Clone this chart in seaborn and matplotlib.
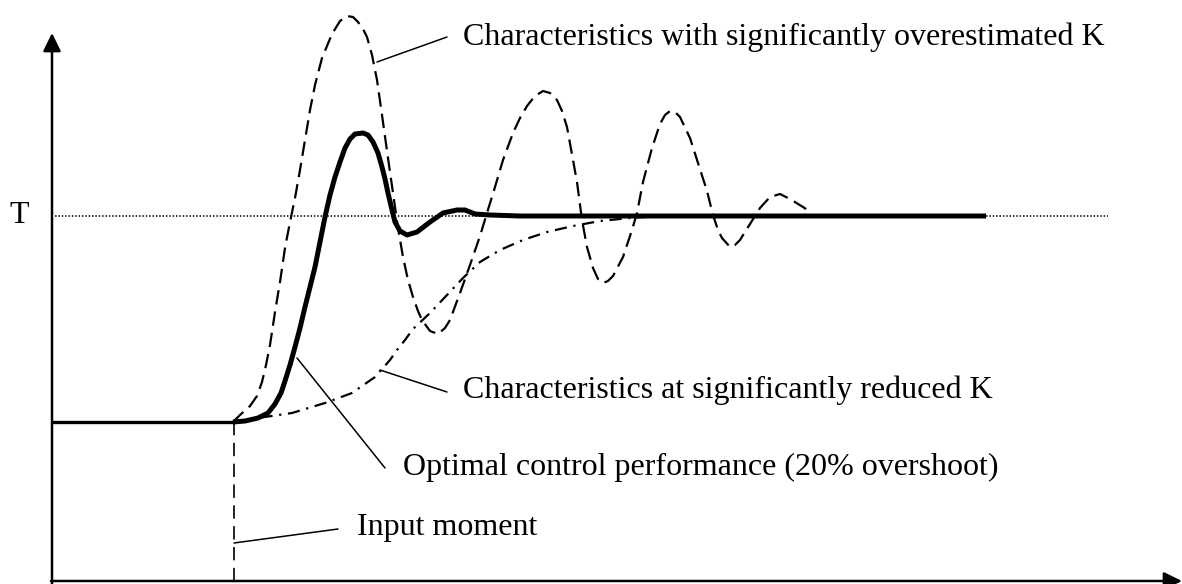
import matplotlib
matplotlib.use("Agg")
import matplotlib.pyplot as plt
import seaborn as sns

# values, in picture units (x = time, y = level, y grows downward)
t_pre = [52, 233]
y_pre = [422, 422]

t_opt = [233, 245, 258, 268, 275, 281, 285, 290, 295, 300, 305, 310, 315, 320, 325,
         330, 335, 340, 345, 350, 355, 363, 368, 373, 378, 382, 385, 388, 392, 395,
         400, 407, 417, 430, 443, 457, 465, 470, 475, 490, 520, 986]
y_opt = [422, 421, 418, 413, 404, 393, 381, 365, 347, 328, 307, 287, 267, 242, 217,
         195, 177, 162, 148, 139, 134, 133, 135, 142, 153, 167, 179, 193, 210, 222,
         231, 235, 232, 222, 213, 210, 210, 212, 214, 215, 216, 216]

t_over = [233, 240, 250, 257, 262, 266, 270, 275, 280, 285, 290, 295, 300, 305, 310,
          315, 322, 332, 340, 347, 353, 358, 363, 367, 372, 377, 382, 388, 393, 398,
          403, 408, 413, 418, 422, 430, 438, 445, 450, 460, 470, 480, 487, 495, 503,
          513, 520, 527, 535, 543, 550, 557, 562, 567, 573, 577, 582, 587, 593, 598,
          603, 608, 613, 623, 632, 637, 643, 652, 660, 665, 670, 675, 680, 690, 698,
          707, 713, 718, 722, 730, 735, 740, 750, 760, 770, 780, 790, 803, 812]
y_over = [422, 415, 406, 396, 382, 365, 345, 312, 282, 248, 222, 198, 170, 140, 110,
          85, 58, 34, 21, 16, 17, 22, 29, 37, 55, 80, 115, 158, 193, 228,
          257, 280, 297, 311, 320, 331, 334, 328, 320, 293, 265, 236, 213, 187, 160,
          133, 118, 106, 96, 91, 93, 100, 111, 127, 160, 182, 220, 247, 268, 279,
          283, 281, 276, 257, 230, 213, 182, 148, 124, 115, 111, 112, 117, 138, 163,
          191, 215, 230, 238, 247, 245, 240, 224, 208, 197, 194, 199, 207, 213]

t_red = [233, 258, 292, 325, 352, 375, 390, 397, 405, 413, 430, 447, 463, 480, 500,
         523, 547, 573, 600, 630, 660]
y_red = [422, 418, 413, 403, 393, 377, 360, 350, 340, 329, 313, 295, 278, 262, 250,
         240, 232, 226, 221, 218, 216]

setpoint = 216
t_input = 234
setpoint_label = "T"
labels = [
    "Characteristics with significantly overestimated K",
    "Characteristics at significantly reduced K",
    "Optimal control performance (20% overshoot)",
    "Input moment",
]

sns.set_style("white")
plt.rcParams["font.family"] = ["Liberation Serif", "DejaVu Serif"]
plt.rcParams["text.color"] = "black"

fig = plt.figure(figsize=(11.82, 5.84), dpi=100)
ax = fig.add_axes([0, 0, 1, 1])
ax.set_xlim(0, 1182)
ax.set_ylim(584, 0)
ax.axis("off")

# set-point line and input moment
ax.plot([55, 1108], [setpoint, setpoint], color="black", lw=1.1, ls=(0, (1, 1.2)))
ax.plot([t_input, t_input], [y_pre[-1], 582], color="black", lw=1.2, ls=(0, (8, 4.5)))

# curves
sns.lineplot(x=t_red, y=y_red, ax=ax, color="black", lw=1.6, sort=False,
             ls=(0, (5.5, 3, 1, 3)))
sns.lineplot(x=t_over, y=y_over, ax=ax, color="black", lw=1.6, sort=False,
             ls=(0, (6.5, 3.2)))
sns.lineplot(x=t_pre, y=y_pre, ax=ax, color="black", lw=2.4, sort=False)
sns.lineplot(x=t_opt, y=y_opt, ax=ax, color="black", lw=3.6, sort=False,
             solid_joinstyle="round", solid_capstyle="butt")

# axes with arrows
arrow = dict(arrowstyle="-|>,head_length=0.55,head_width=0.27", color="black",
             lw=1.8, mutation_scale=20, shrinkA=0, shrinkB=0)
ax.annotate("", xy=(52, 33), xytext=(52, 584), arrowprops=arrow)
ax.annotate("", xy=(1182, 581), xytext=(51, 581), arrowprops=arrow)

# labels with leader lines
fs = 23
ax.text(19, 223, setpoint_label, fontsize=fs, ha="center", va="baseline", color="black")
leaders = [((377, 62), (447, 37), (463, 45)),
           ((380, 370), (447, 392), (463, 398)),
           ((297, 358), (385, 468), (403, 475)),
           ((234, 543), (338, 529), (357, 535))]
for text, (p0, p1, pt) in zip(labels, leaders):
    ax.plot([p0[0], p1[0]], [p0[1], p1[1]], color="black", lw=1.1)
    ax.text(pt[0], pt[1], text, fontsize=fs, ha="left", va="baseline", color="black")

fig.savefig("out.png", dpi=100)
